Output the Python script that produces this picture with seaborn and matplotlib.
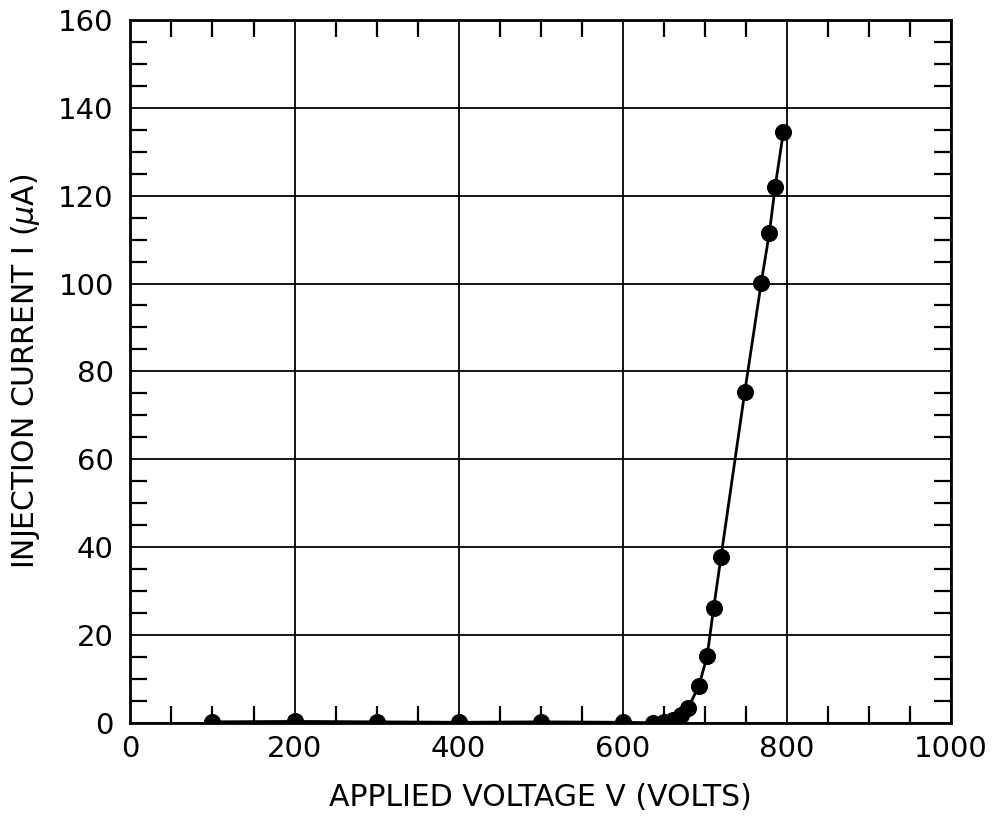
import pandas as pd
import matplotlib
matplotlib.use("Agg")
import matplotlib.pyplot as plt
from matplotlib.ticker import MultipleLocator
import seaborn as sns

# values
voltage = [100, 200, 300, 400, 500, 600, 637, 650, 661, 671, 680, 693, 703, 711, 720,
           749, 769, 779, 786, 796]
current = [0.2, 0.3, 0.2, 0.1, 0.2, 0.1, 0.0, 0.1, 0.6, 1.8, 3.4, 8.4, 15.1, 26.1, 37.8,
           75.4, 100.2, 111.6, 122.0, 134.5]

df = pd.DataFrame({"V": voltage, "I": current})

sns.set_style("white")
plt.rcParams["font.family"] = ["DejaVu Sans"]

fig = plt.figure(figsize=(9.96, 8.16), dpi=100)
ax = fig.add_axes([0.131, 0.1143, 0.8235, 0.8612])

sns.lineplot(data=df, x="V", y="I", ax=ax, color="black", linewidth=2,
             marker="o", markersize=11.5, markeredgecolor="black", markerfacecolor="black")

ax.set_xlim(0, 1000)
ax.set_ylim(0, 160)
ax.xaxis.set_major_locator(MultipleLocator(200))
ax.xaxis.set_minor_locator(MultipleLocator(50))
ax.yaxis.set_major_locator(MultipleLocator(20))
ax.yaxis.set_minor_locator(MultipleLocator(5))

ax.grid(True, which="major", color="black", linewidth=1.3)
ax.set_axisbelow(True)
for s in ax.spines.values():
    s.set_color("black")
    s.set_linewidth(2)

ax.tick_params(which="major", direction="in", length=0, labelsize=21, pad=12,
               colors="black")
ax.tick_params(axis="x", which="major", pad=9)
ax.tick_params(which="minor", direction="in", length=12.5, width=1.6, colors="black",
               top=True, right=True, bottom=True, left=True)

ax.set_xlabel("APPLIED VOLTAGE V (VOLTS)", fontsize=21.5, labelpad=14, color="black")
ax.set_ylabel("INJECTION CURRENT I ($\\mu$A)", fontsize=21.5, labelpad=12, color="black")

fig.savefig("out.png", dpi=100)
